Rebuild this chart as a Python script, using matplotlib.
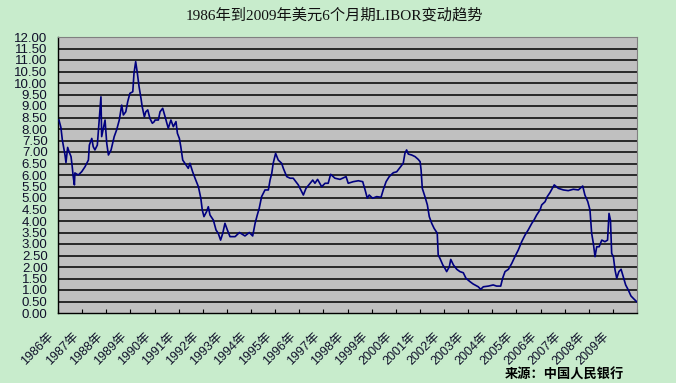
#!/usr/bin/env python3
"""USD 6-month LIBOR, 1986-2009, in the style of an old Excel chart."""

import matplotlib

matplotlib.use("Agg")
import matplotlib.pyplot as plt
from matplotlib.transforms import ScaledTranslation

BG_GREEN = "#C8ECCC"
PLOT_GRAY = "#C0C0C0"
NAVY = "#000080"
TEXT = "#10102A"

TITLE = "1986年到2009年美元6个月期LIBOR变动趋势"
SOURCE = "来源：中国人民银行"

# decimal year / rate (%)
DATES = [
    1986.04, 1986.12, 1986.18, 1986.29, 1986.33, 1986.40, 1986.46, 1986.54,
    1986.59, 1986.63, 1986.68, 1986.70, 1986.84, 1986.98, 1987.12, 1987.26,
    1987.30, 1987.40, 1987.46, 1987.53, 1987.63, 1987.71, 1987.78, 1987.81,
    1987.88, 1987.95, 1988.02, 1988.09, 1988.20, 1988.33, 1988.43, 1988.54,
    1988.64, 1988.71, 1988.81, 1988.89, 1988.98, 1989.10, 1989.15, 1989.22,
    1989.29, 1989.36, 1989.44, 1989.49, 1989.58, 1989.64, 1989.72, 1989.81,
    1989.91, 1989.99, 1990.02, 1990.16, 1990.23, 1990.34, 1990.44, 1990.57,
    1990.68, 1990.78, 1990.89, 1990.95, 1991.03, 1991.09, 1991.17, 1991.26,
    1991.40, 1991.47, 1991.58, 1991.68, 1991.82, 1991.92, 1991.98, 1992.05,
    1992.16, 1992.23, 1992.30, 1992.44, 1992.55, 1992.64, 1992.74, 1992.83,
    1992.92, 1993.02, 1993.13, 1993.34, 1993.52, 1993.75, 1993.93, 1994.07,
    1994.17, 1994.26, 1994.34, 1994.44, 1994.58, 1994.72, 1994.79, 1994.86,
    1994.92, 1995.02, 1995.13, 1995.27, 1995.34, 1995.48, 1995.62, 1995.75,
    1995.96, 1996.17, 1996.28, 1996.45, 1996.56, 1996.65, 1996.76, 1996.93,
    1997.07, 1997.20, 1997.30, 1997.48, 1997.69, 1997.94, 1998.03, 1998.24,
    1998.45, 1998.63, 1998.73, 1998.82, 1998.90, 1999.04, 1999.21, 1999.39,
    1999.48, 1999.60, 1999.73, 1999.90, 2000.04, 2000.18, 2000.31, 2000.38,
    2000.45, 2000.52, 2000.66, 2000.80, 2000.93, 2001.01, 2001.05, 2001.10,
    2001.21, 2001.31, 2001.39, 2001.49, 2001.59, 2001.72, 2001.76, 2001.83,
    2001.95, 2002.04, 2002.11, 2002.22, 2002.28, 2002.39, 2002.53, 2002.66,
    2002.80, 2002.91, 2003.08, 2003.21, 2003.42, 2003.52, 2003.63, 2003.84,
    2004.04, 2004.18, 2004.35, 2004.43, 2004.53, 2004.67, 2004.81, 2004.94,
    2005.08, 2005.22, 2005.36, 2005.49, 2005.64, 2005.73, 2005.84, 2005.98,
    2006.05, 2006.19, 2006.28, 2006.39, 2006.57, 2006.74, 2006.95, 2007.15,
    2007.36, 2007.57, 2007.75, 2007.84, 2007.96, 2008.05, 2008.12, 2008.19,
    2008.26, 2008.33, 2008.43, 2008.54, 2008.67, 2008.78, 2008.84, 2008.90,
    2008.95, 2009.02, 2009.09, 2009.16, 2009.25, 2009.34, 2009.43, 2009.53,
    2009.64, 2009.75, 2009.89, 2009.99,
]
RATES = [
    8.39, 8.07, 7.52, 6.87, 6.54, 7.20, 7.01, 6.80,
    6.36, 5.93, 5.57, 6.09, 6.00, 6.14, 6.36, 6.65,
    7.30, 7.59, 7.23, 7.09, 7.30, 8.39, 9.40, 7.67,
    8.03, 8.39, 7.38, 6.87, 7.09, 7.67, 7.96, 8.39,
    9.04, 8.61, 8.75, 9.19, 9.55, 9.62, 10.42, 10.93,
    10.42, 9.84, 9.33, 8.97, 8.53, 8.75, 8.83, 8.46,
    8.25, 8.32, 8.39, 8.39, 8.75, 8.90, 8.53, 8.03,
    8.39, 8.10, 8.32, 7.81, 7.59, 7.23, 6.65, 6.51,
    6.29, 6.51, 6.14, 5.86, 5.49, 4.99, 4.48, 4.19,
    4.41, 4.62, 4.26, 4.04, 3.61, 3.47, 3.17, 3.47,
    3.90, 3.61, 3.32, 3.32, 3.50, 3.35, 3.50, 3.35,
    3.90, 4.26, 4.55, 5.06, 5.35, 5.35, 5.78, 6.07,
    6.51, 6.94, 6.65, 6.51, 6.29, 5.93, 5.86, 5.86,
    5.57, 5.13, 5.42, 5.64, 5.78, 5.64, 5.81, 5.49,
    5.64, 5.64, 6.03, 5.86, 5.81, 5.93, 5.64, 5.71,
    5.75, 5.71, 5.35, 4.99, 5.13, 4.99, 5.06, 5.03,
    5.35, 5.71, 5.93, 6.10, 6.14, 6.33, 6.51, 6.94,
    7.09, 6.91, 6.87, 6.80, 6.68, 6.58, 6.22, 5.42,
    5.06, 4.70, 4.19, 3.90, 3.68, 3.47, 2.52, 2.38,
    2.09, 1.94, 1.80, 2.01, 2.33, 2.09, 1.90, 1.80,
    1.75, 1.51, 1.36, 1.26, 1.14, 1.03, 1.14, 1.17,
    1.22, 1.17, 1.17, 1.51, 1.80, 1.90, 2.16, 2.45,
    2.74, 3.10, 3.39, 3.61, 3.90, 4.04, 4.26, 4.48,
    4.70, 4.84, 5.06, 5.23, 5.57, 5.42, 5.35, 5.32,
    5.38, 5.35, 5.52, 5.13, 4.84, 4.48, 3.47, 3.03,
    2.45, 2.88, 2.88, 3.17, 3.10, 3.17, 4.33, 4.04,
    2.59, 2.45, 1.87, 1.51, 1.80, 1.90, 1.58, 1.22,
    1.00, 0.74, 0.59, 0.49,
]

YEARS = list(range(1986, 2010))
Y_TICKS = [i * 0.5 for i in range(25)]


def main() -> None:
    plt.rcParams["font.family"] = ["Liberation Sans", "Noto Sans CJK SC"]

    fig = plt.figure(figsize=(6.76, 3.83), dpi=100, facecolor=BG_GREEN)
    ax = fig.add_axes((58 / 676, 1 - 313 / 383, 579 / 676, 276 / 383))
    ax.set_facecolor(PLOT_GRAY)

    for y in Y_TICKS[1:-1]:
        ax.axhline(y, color="black", lw=1.1, zorder=1)

    ax.plot(DATES, RATES, color=NAVY, lw=1.2, zorder=3)

    ax.set_xlim(1986, 2010)
    ax.set_ylim(0, 12)

    ax.set_yticks(Y_TICKS)
    ax.set_yticklabels([f"{v:.2f}" for v in Y_TICKS])
    ax.tick_params(axis="y", length=0, pad=7.5, labelsize=9.5, labelcolor=TEXT)

    ax.set_xticks(YEARS + [2010])
    ax.set_xticklabels([f"{y}年" for y in YEARS] + [""])
    ax.tick_params(axis="x", direction="in", length=3, width=0.8, pad=0,
                   labelsize=9, labelcolor=TEXT)
    shift = ScaledTranslation(-0.10, -0.17, fig.dpi_scale_trans)
    for label in ax.get_xticklabels():
        label.set_rotation(45)
        label.set_rotation_mode("anchor")
        label.set_ha("right")
        label.set_va("top")
        label.set_transform(label.get_transform() + shift)

    for side in ("left", "bottom"):
        ax.spines[side].set_color("black")
        ax.spines[side].set_linewidth(1.0)
    for side in ("top", "right"):
        ax.spines[side].set_color("#808080")
        ax.spines[side].set_linewidth(0.8)

    fig.text(334 / 676, 1 - 15 / 383, TITLE, ha="center", va="center",
             fontsize=11, color="#111111",
             family=["Liberation Serif", "Noto Sans CJK SC"])
    fig.text(564 / 676, 1 - 375 / 383, SOURCE, ha="center", va="center",
             fontsize=9.5, fontweight="bold", color="black",
             family=["Noto Sans CJK SC"])

    fig.savefig("out.png", dpi=100, facecolor=BG_GREEN)


if __name__ == "__main__":
    main()
